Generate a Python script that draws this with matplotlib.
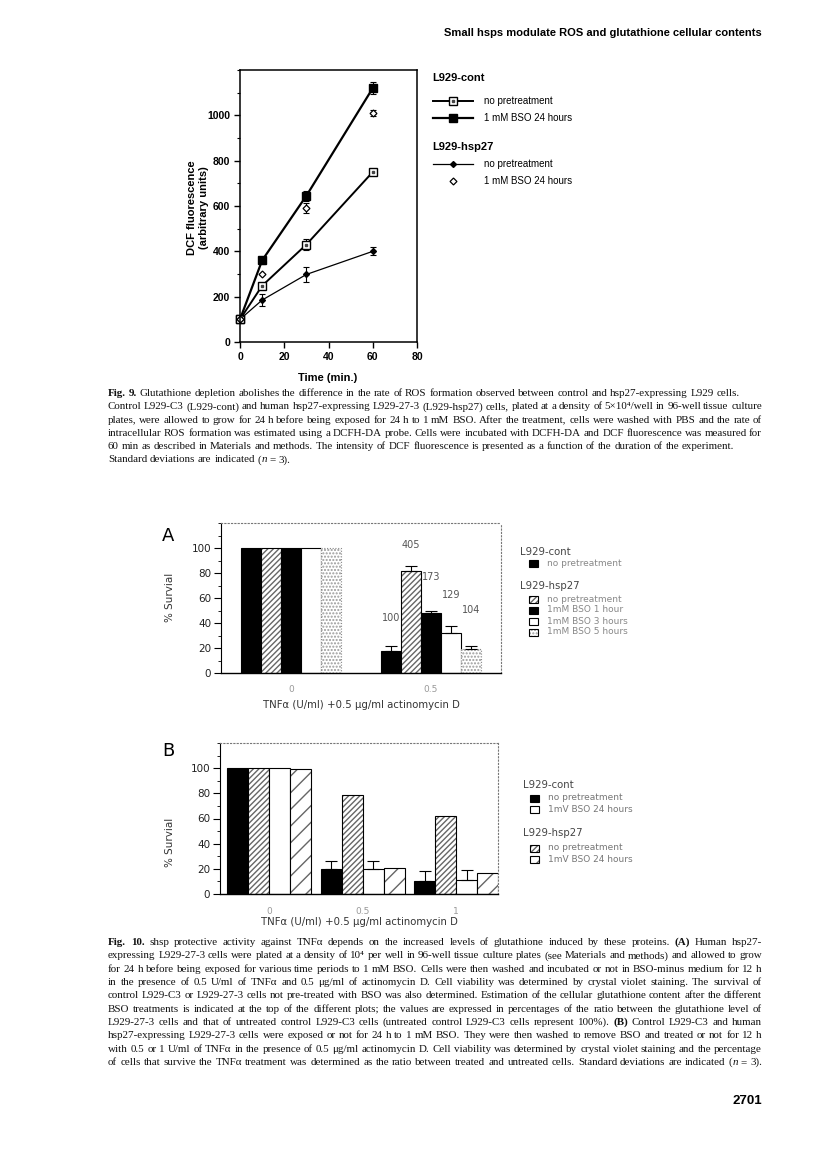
import numpy as np
import matplotlib.pyplot as plt
from matplotlib.ticker import MultipleLocator
from matplotlib.patches import Rectangle

W, H = 816, 1150
SANS = ['Liberation Sans', 'DejaVu Sans']
SERIF = ['Liberation Serif', 'DejaVu Serif']
LIGHT = ['DejaVu Sans']

# Fig. 9 : DCF fluorescence vs time
time_min = [0, 10, 30, 60]
cont_np = [100, 248, 430, 750]
cont_np_err = [0, 8, 25, 10]
cont_bso = [100, 360, 645, 1120]
cont_bso_err = [0, 15, 22, 25]
hsp_np = [100, 185, 298, 400]
hsp_np_err = [0, 25, 35, 18]
hsp_bso = [100, 302, 592, 1010]
hsp_bso_err = [0, 0, 22, 15]

# Fig. 10A : survival after BSO pretreatment
doses_a = ['0', '0.5']
a_cont_np = [100, 18]
a_hsp_np = [100, 82]
a_hsp_bso1 = [100, 48]
a_hsp_bso3 = [100, 32]
a_hsp_bso5 = [100, 19]
a_err = [[0, 4], [0, 4], [0, 2], [0, 6], [0, 3]]
a_names = ['no pretreatment', '1mM BSO 1 hour', '1mM BSO 3 hours', '1mM BSO 5 hours']
gsh_text = ['100', '405', '173', '129', '104']
gsh_y = [44, 102, 77, 62, 50]

# Fig. 10B : survival, BSO 24 h
doses_b = ['0', '0.5', '1']
b_cont_np = [100, 20, 10]
b_hsp_np = [100, 79, 62]
b_cont_bso = [100, 20, 11]
b_hsp_bso = [99, 21, 17]
b_err = [[0, 6, 8], [0, 0, 0], [0, 6, 8], [0, 0, 0]]
b_names = ['no pretreatment', '1mV BSO 24 hours']

cap9 = [
    "*Fig. 9.* Glutathione depletion abolishes the difference in the rate of ROS formation observed between control and hsp27-expressing L929 cells.",
    "Control L929-C3 (L929-cont) and human hsp27-expressing L929-27-3 (L929-hsp27) cells, plated at a density of 5×10⁴/well in 96-well tissue culture",
    "plates, were allowed to grow for 24 h before being exposed for 24 h to 1 mM BSO. After the treatment, cells were washed with PBS and the rate of",
    "intracellular ROS formation was estimated using a DCFH-DA probe. Cells were incubated with DCFH-DA and DCF fluorescence was measured for",
    "60 min as described in Materials and methods. The intensity of DCF fluorescence is presented as a function of the duration of the experiment.",
    "Standard deviations are indicated (_n_ = 3).",
]
cap9_just = [False, True, True, True, False, False]

cap10 = [
    "*Fig. 10.* shsp protective activity against TNFα depends on the increased levels of glutathione induced by these proteins. *(A)* Human hsp27-",
    "expressing L929-27-3 cells were plated at a density of 10⁴ per well in 96-well tissue culture plates (see Materials and methods) and allowed to grow",
    "for 24 h before being exposed for various time periods to 1 mM BSO. Cells were then washed and incubated or not in BSO-minus medium for 12 h",
    "in the presence of 0.5 U/ml of TNFα and 0.5 μg/ml of actinomycin D. Cell viability was determined by crystal violet staining. The survival of",
    "control L929-C3 or L929-27-3 cells not pre-treated with BSO was also determined. Estimation of the cellular glutathione content after the different",
    "BSO treatments is indicated at the top of the different plots; the values are expressed in percentages of the ratio between the glutathione level of",
    "L929-27-3 cells and that of untreated control L929-C3 cells (untreated control L929-C3 cells represent 100%). *(B)* Control L929-C3 and human",
    "hsp27-expressing L929-27-3 cells were exposed or not for 24 h to 1 mM BSO. They were then washed to remove BSO and treated or not for 12 h",
    "with 0.5 or 1 U/ml of TNFα in the presence of 0.5 μg/ml actinomycin D. Cell viability was determined by crystal violet staining and the percentage",
    "of cells that survive the TNFα treatment was determined as the ratio between treated and untreated cells. Standard deviations are indicated (_n_ = 3).",
]


def box(l, t, r, b):
    return [l / W, 1 - b / H, (r - l) / W, (b - t) / H]


fig = plt.figure(figsize=(W / 100, H / 100), dpi=100)
fig.patch.set_facecolor('white')

# page overlay in pixel coords (y down)
pg = fig.add_axes([0, 0, 1, 1])
pg.set_xlim(0, W)
pg.set_ylim(H, 0)
pg.axis('off')

renderer = fig.canvas.get_renderer()


def parse(line):
    words = []
    bold = ital = False
    for w in line.split(' '):
        pieces, buf = [], ''
        for ch in w:
            if ch in '*_':
                if buf:
                    pieces.append((buf, bold, ital))
                    buf = ''
                if ch == '*':
                    bold = not bold
                else:
                    ital = not ital
            else:
                buf += ch
        if buf:
            pieces.append((buf, bold, ital))
        if pieces:
            words.append(pieces)
    return words


def place_words(words, y, size):
    items, widths = [], []
    for pieces in words:
        ts, wsum = [], 0
        for s, b, it in pieces:
            t = pg.text(0, y, s, family=SERIF, size=size,
                        weight='bold' if b else 'normal',
                        style='italic' if it else 'normal',
                        ha='left', va='baseline', color='#111')
            wd = t.get_window_extent(renderer).width
            ts.append((t, wd))
            wsum += wd
        items.append(ts)
        widths.append(wsum)
    return items, widths


def text_line(line, y, justify, x0=108, x1=762, size=7.9):
    words = parse(line)
    items, widths = place_words(words, y, size)
    n = len(words)
    need = sum(widths) + (n - 1) * 2.0
    if need > x1 - x0:
        # shrink a little so the line still fits
        for ts in items:
            for t, _ in ts:
                t.remove()
        size = size * (x1 - x0) / need
        items, widths = place_words(words, y, size)
    gap = size * 100 / 72 * 0.25
    if justify and n > 1:
        gap = (x1 - x0 - sum(widths)) / (n - 1)
    x = x0
    for ts in items:
        for t, wd in ts:
            t.set_x(x)
            x += wd
        x += gap


# header / page number
pg.text(762, 33, 'Small hsps modulate ROS and glutathione cellular contents',
        ha='right', va='center', family=SANS, weight='bold', size=8)
pg.text(762, 1101, '2701', ha='right', va='center', family=SANS,
        weight='bold', size=9.5)

# ---------------- Fig. 9 ----------------
ax9 = fig.add_axes(box(240, 70, 417, 342))
ekw = dict(fmt='none', ecolor='k', elinewidth=0.8, capsize=2.5, capthick=0.8)
ax9.errorbar(time_min, cont_np, yerr=cont_np_err, **ekw)
ax9.errorbar(time_min, cont_bso, yerr=cont_bso_err, **ekw)
ax9.errorbar(time_min, hsp_np, yerr=hsp_np_err, **ekw)
ax9.errorbar(time_min, hsp_bso, yerr=hsp_bso_err, **ekw)
ax9.plot(time_min, cont_bso, '-s', color='k', lw=1.6, ms=6, clip_on=False)
ax9.plot(time_min, cont_np, '-s', color='k', lw=1.4, ms=6, mfc='white',
         mew=1, clip_on=False)
ax9.plot(time_min, cont_np, 's', color='#444', ms=2, clip_on=False)
ax9.plot(time_min, hsp_np, '-D', color='k', lw=0.9, ms=3, clip_on=False)
ax9.plot(time_min, hsp_bso, 'D', color='k', ms=3.5, mfc='white', mew=0.9,
         clip_on=False)
ax9.set_xlim(0, 80)
ax9.set_ylim(0, 1200)
ax9.set_xticks(range(0, 81, 20))
ax9.set_yticks(range(0, 1001, 200))
ax9.yaxis.set_minor_locator(MultipleLocator(100))
ax9.tick_params(which='major', direction='out', length=4, width=1, pad=3,
                labelsize=7.5)
ax9.tick_params(which='minor', direction='out', length=2.5, width=0.8)
for lab in ax9.get_xticklabels() + ax9.get_yticklabels():
    lab.set_fontweight('bold')
    lab.set_family(SANS)
for sp in ax9.spines.values():
    sp.set_linewidth(1.1)
pg.text(328, 378, 'Time (min.)', ha='center', va='center', family=SANS,
        weight='bold', size=8)
pg.text(198, 208, 'DCF fluorescence\n(arbitrary units)', ha='center',
        va='center', rotation=90, family=SANS, weight='bold', size=8,
        linespacing=1.3)

# Fig. 9 legend
pg.text(432, 78, 'L929-cont', ha='left', va='center', family=SANS,
        weight='bold', size=8)
pg.text(432, 147, 'L929-hsp27', ha='left', va='center', family=SANS,
        weight='bold', size=8)
leg9 = [(101, 1.4, dict(marker='s', ms=6, mfc='white', mew=1), 'no pretreatment'),
        (118, 1.6, dict(marker='s', ms=6), '1 mM BSO 24 hours'),
        (164, 0.9, dict(marker='D', ms=3), 'no pretreatment'),
        (181, None, dict(marker='D', ms=3.5, mfc='white', mew=0.9), '1 mM BSO 24 hours')]
for y, lw, mk, lab in leg9:
    if lw is not None:
        pg.plot([433, 473], [y, y], color='k', lw=lw)
    pg.plot([453], [y], color='k', ls='none', **mk)
    pg.text(484, y, lab, ha='left', va='center', family=SANS, size=7)
pg.plot([453], [101], 's', color='#444', ms=2)

for i, line in enumerate(cap9):
    text_line(line, 396 + i * 13.3, cap9_just[i])

# ---------------- Fig. 10 helpers ----------------
GREY = '#666666'


def draw_bars(ax, pos, vals, st, bw):
    if st.get('hatch'):
        ax.bar(pos, vals, bw, color='white', edgecolor=st['hc'],
               hatch=st['hatch'], linewidth=0)
        ax.bar(pos, vals, bw, fill=False, edgecolor=st.get('ec', 'k'),
               linewidth=0.8, linestyle=st.get('ls', '-'))
    else:
        ax.bar(pos, vals, bw, color=st['fc'], edgecolor='k', linewidth=0.8)


def key(x, y, st, w=9, h=7):
    if st.get('hatch'):
        pg.add_patch(Rectangle((x, y - h / 2), w, h, facecolor='white',
                               edgecolor=st['hc'], hatch=st['hatch'], lw=0))
        pg.add_patch(Rectangle((x, y - h / 2), w, h, fill=False,
                               edgecolor='k', lw=0.8))
    else:
        pg.add_patch(Rectangle((x, y - h / 2), w, h, facecolor=st['fc'],
                               edgecolor='k', lw=0.8))


def style_axes(ax):
    ax.set_ylim(0, 120)
    ax.set_yticks(range(0, 101, 20))
    ax.yaxis.set_minor_locator(MultipleLocator(10))
    ax.tick_params(axis='y', which='major', direction='out', length=5,
                   width=0.8, pad=2, labelsize=7.5, labelcolor='#222')
    ax.tick_params(axis='y', which='minor', direction='out', length=2,
                   width=0.6)
    ax.tick_params(axis='x', length=0, pad=9, labelsize=6.5,
                   labelcolor='#999')
    for lab in ax.get_yticklabels() + ax.get_xticklabels():
        lab.set_family(LIGHT)
    ax.spines['left'].set_linewidth(0.8)
    ax.spines['bottom'].set_linewidth(1.0)
    for s in ('top', 'right'):
        ax.spines[s].set_linestyle((0, (1, 2)))
        ax.spines[s].set_color('#777')
        ax.spines[s].set_linewidth(0.8)


bar_kw = dict(fmt='none', ecolor='k', elinewidth=0.8, capsize=4,
              capthick=0.8)

# ---------------- Fig. 10A ----------------
axA = fig.add_axes(box(221, 523, 501, 673))
styles_a = [dict(fc='k'),
            dict(hatch='//////', hc=GREY),
            dict(fc='k'),
            dict(fc='white'),
            dict(hatch='.....', hc='#9a9a9a', ec='#888', ls=(0, (1, 1.5)))]
series_a = [a_cont_np, a_hsp_np, a_hsp_bso1, a_hsp_bso3, a_hsp_bso5]
bwa = 1 / 7
xa = np.arange(len(doses_a))
for k, (vals, err) in enumerate(zip(series_a, a_err)):
    pos = xa + (k - 2) * bwa
    draw_bars(axA, pos, vals, styles_a[k], bwa)
    e = np.array(err)
    m = e > 0
    axA.errorbar(pos[m], np.array(vals)[m], yerr=[np.zeros(m.sum()), e[m]],
                 **bar_kw)
    axA.text(pos[1], gsh_y[k], gsh_text[k], ha='center', va='center',
             family=LIGHT, size=7, color='#555')
axA.set_xlim(-0.5, 1.5)
axA.set_xticks(xa)
axA.set_xticklabels(doses_a)
style_axes(axA)
pg.text(168, 536, 'A', ha='center', va='center', family=LIGHT, size=13)
pg.text(170, 597, '% Survial', ha='center', va='center', rotation=90,
        family=LIGHT, size=7.5, color='#333')
pg.text(361, 705, 'TNFα (U/ml) +0.5 μg/ml actinomycin D', ha='center',
        va='center', family=LIGHT, size=7.3, color='#333')

pg.text(520, 552, 'L929-cont', ha='left', va='center', family=LIGHT,
        size=7.3, color='#444')
key(529, 563, styles_a[0])
pg.text(547, 563, 'no pretreatment', ha='left', va='center', family=LIGHT,
        size=6.5, color='#888')
pg.text(520, 586, 'L929-hsp27', ha='left', va='center', family=LIGHT,
        size=7.3, color='#444')
for i, (st, lab) in enumerate(zip(styles_a[1:], a_names)):
    y = 599 + i * 11
    key(529, y, st)
    pg.text(547, y, lab, ha='left', va='center', family=LIGHT, size=6.5,
            color='#888')

# ---------------- Fig. 10B ----------------
axB = fig.add_axes(box(220, 743, 498, 894))
styles_b = [dict(fc='k'),
            dict(hatch='//////', hc=GREY),
            dict(fc='white'),
            dict(hatch='//', hc=GREY)]
series_b = [b_cont_np, b_hsp_np, b_cont_bso, b_hsp_bso]
bwb = 0.225
xb = np.arange(len(doses_b))
for k, (vals, err) in enumerate(zip(series_b, b_err)):
    pos = xb + (k - 1.5) * bwb
    draw_bars(axB, pos, vals, styles_b[k], bwb)
    e = np.array(err)
    m = e > 0
    if m.any():
        axB.errorbar(pos[m], np.array(vals)[m],
                     yerr=[np.zeros(m.sum()), e[m]], **bar_kw)
axB.set_xlim(-0.53, 2.45)
axB.set_xticks(xb)
axB.set_xticklabels(doses_b)
style_axes(axB)
pg.text(168, 751, 'B', ha='center', va='center', family=LIGHT, size=13)
pg.text(170, 842, '% Survial', ha='center', va='center', rotation=90,
        family=LIGHT, size=7.5, color='#333')
pg.text(359, 922, 'TNFα (U/ml) +0.5 μg/ml actinomycin D', ha='center',
        va='center', family=LIGHT, size=7.3, color='#333')

pg.text(523, 785, 'L929-cont', ha='left', va='center', family=LIGHT,
        size=7.3, color='#444')
pg.text(523, 833, 'L929-hsp27', ha='left', va='center', family=LIGHT,
        size=7.3, color='#444')
for y, st, lab in [(798, styles_b[0], b_names[0]), (809, styles_b[2], b_names[1]),
                   (848, styles_b[1], b_names[0]), (859, styles_b[3], b_names[1])]:
    key(530, y, st)
    pg.text(548, y, lab, ha='left', va='center', family=LIGHT, size=6.5,
            color='#777')

for i, line in enumerate(cap10):
    text_line(line, 945 + i * 13.35, True)

fig.savefig('out.png', dpi=100)
